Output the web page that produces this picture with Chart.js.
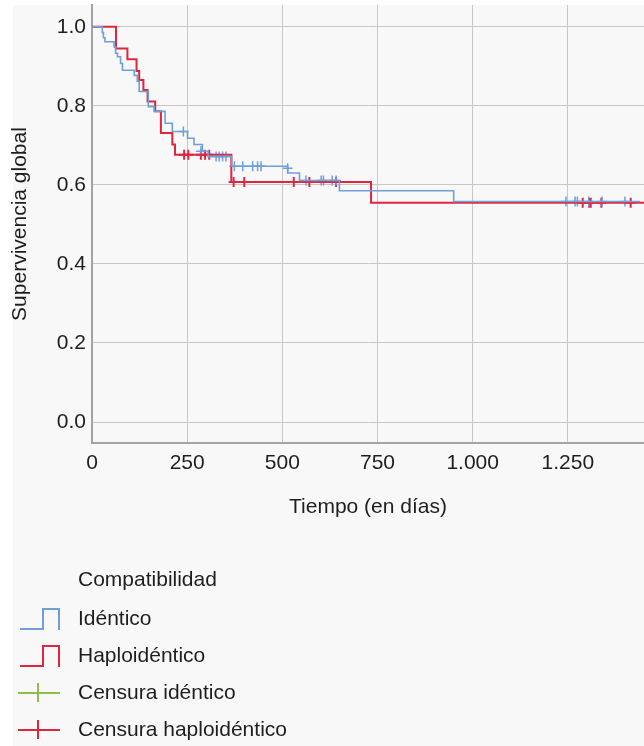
<!DOCTYPE html>
<html>
<head>
<meta charset="utf-8">
<script src="https://cdn.jsdelivr.net/npm/chart.js@4.4.1/dist/chart.umd.min.js"></script>
<style>
  html, body { margin: 0; padding: 0; background: #fff; }
  #wrap { width: 644px; height: 746px; }
</style>
</head>
<body>
<div id="wrap"><canvas id="km" width="644" height="746"></canvas></div>
<script>
// Curvas Kaplan-Meier (tiempo en días, supervivencia acumulada)
const identicoTiempo = [0, 27, 30, 34, 58, 62, 67, 75, 80, 111, 119, 124, 148, 163, 192, 211, 251, 268, 290, 305, 367, 514, 545, 650, 950, 1440]
const identicoSuperv = [1.0, 0.985, 0.972, 0.962, 0.949, 0.933, 0.924, 0.907, 0.89, 0.877, 0.862, 0.836, 0.798, 0.786, 0.756, 0.735, 0.718, 0.702, 0.685, 0.672, 0.647, 0.630, 0.611, 0.585, 0.558, 0.558]

const haploTiempo = [0, 63, 93, 117, 124, 135, 146, 166, 181, 211, 218, 366, 733, 1450]
const haploSuperv = [1.0, 0.945, 0.918, 0.888, 0.865, 0.84, 0.811, 0.786, 0.731, 0.702, 0.676, 0.607, 0.555, 0.555]

// Censuras
const censIdenticoTiempo = [240, 286, 326, 334, 343, 352, 374, 396, 422, 435, 444, 514, 562, 602, 608, 631, 641, 1245, 1269, 1275, 1305, 1340, 1400]
const censIdenticoSuperv = [0.735, 0.685, 0.672, 0.672, 0.672, 0.672, 0.647, 0.647, 0.647, 0.647, 0.647, 0.642, 0.611, 0.611, 0.611, 0.611, 0.611, 0.558, 0.558, 0.558, 0.558, 0.558, 0.558]

const censHaploTiempo = [242, 253, 286, 297, 308, 372, 400, 530, 571, 641, 1289, 1306, 1310, 1338, 1415]
const censHaploSuperv = [0.676, 0.676, 0.676, 0.676, 0.676, 0.607, 0.607, 0.607, 0.607, 0.607, 0.555, 0.555, 0.555, 0.555, 0.555]

const xTicks = [0, 250, 500, 750, 1000, 1250]
const xTickLabels = ['0', '250', '500', '750', '1.000', '1.250']
const yTicks = [0, 0.2, 0.4, 0.6, 0.8, 1.0]
const yTickLabels = ['0.0', '0.2', '0.4', '0.6', '0.8', '1.0']

const legendTitle = 'Compatibilidad'
const legendLabels = ['Idéntico', 'Haploidéntico', 'Censura idéntico', 'Censura haploidéntico']

const azul = '#6f9fd8'
const rojo = '#de2640'
const verde = '#8cc045'
const textColor = '#1e1e1e'
const fontFamily = "'Liberation Sans', Arial, sans-serif"
const fontSize = 21

const toPoints = (xs, ys) => xs.map((x, i) => ({ x: x, y: ys[i] }))

const bgPlugin = {
    id: 'bg',
    beforeDraw: (chart) => {
        const ctx = chart.ctx
        ctx.save()
        ctx.fillStyle = '#ffffff'
        ctx.fillRect(0, 0, chart.width, chart.height)
        ctx.fillStyle = '#f8f8f8'
        ctx.fillRect(13, 5, chart.width - 13, chart.height - 5)
        ctx.restore()
    }
}

const legendPlugin = {
    id: 'kmLegend',
    afterDraw: (chart) => {
        const ctx = chart.ctx
        ctx.save()
        ctx.font = fontSize + 'px ' + fontFamily
        ctx.fillStyle = textColor
        ctx.textBaseline = 'alphabetic'
        ctx.textAlign = 'left'
        ctx.fillText(legendTitle, 78, 586)
        const rows = [625, 662, 699, 736]
        legendLabels.forEach((label, i) => {
            ctx.fillStyle = textColor
            ctx.fillText(label, 78, rows[i])
        })
        ctx.lineWidth = 2
        // iconos de escalón
        ;[azul, rojo].forEach((color, i) => {
            const base = rows[i] + 4
            ctx.strokeStyle = color
            ctx.beginPath()
            ctx.moveTo(20, base)
            ctx.lineTo(43, base)
            ctx.lineTo(43, base - 20)
            ctx.lineTo(59, base - 20)
            ctx.lineTo(59, base + 1)
            ctx.stroke()
        })
        // iconos de cruz
        ;[verde, rojo].forEach((color, i) => {
            const mid = rows[i + 2] - 6
            ctx.strokeStyle = color
            ctx.beginPath()
            ctx.moveTo(18, mid)
            ctx.lineTo(60, mid)
            ctx.moveTo(38, mid - 10)
            ctx.lineTo(38, mid + 9)
            ctx.stroke()
        })
        ctx.restore()
    }
}

const data = {
    datasets: [
        {
            label: 'Idéntico',
            data: toPoints(identicoTiempo, identicoSuperv),
            borderColor: azul,
            borderWidth: 1.6,
            stepped: true,
            pointRadius: 0,
            fill: false,
        },
        {
            label: 'Haploidéntico',
            data: toPoints(haploTiempo, haploSuperv),
            borderColor: rojo,
            borderWidth: 2,
            stepped: true,
            pointRadius: 0,
            fill: false,
        },
        {
            label: 'Censura idéntico',
            data: toPoints(censIdenticoTiempo, censIdenticoSuperv),
            showLine: false,
            pointStyle: 'cross',
            pointRadius: 5,
            borderColor: azul,
            borderWidth: 1.5,
        },
        {
            label: 'Censura haploidéntico',
            data: toPoints(censHaploTiempo, censHaploSuperv),
            showLine: false,
            pointStyle: 'cross',
            pointRadius: 5,
            borderColor: rojo,
            borderWidth: 2,
        },
    ]
}

const options = {
    responsive: false,
    animation: false,
    events: [],
    layout: {
        autoPadding: false,
        padding: { left: 0, top: 5, right: 0, bottom: 223 }
    },
    plugins: {
        legend: { display: false },
        tooltip: { enabled: false },
    },
    scales: {
        x: {
            type: 'linear',
            min: 0,
            max: 1450,
            afterBuildTicks: (scale) => { scale.ticks = xTicks.map(v => ({ value: v })) },
            afterFit: (scale) => {
                scale.height = 80
                scale.paddingLeft = 0
                scale.paddingRight = 0
            },
            grid: { color: '#cac6c4', lineWidth: 1, drawTicks: false },
            border: { display: true, color: '#a3a3a3', width: 2 },
            ticks: {
                color: textColor,
                padding: 8,
                maxRotation: 0,
                font: { family: fontFamily, size: fontSize },
                callback: (value) => xTickLabels[xTicks.indexOf(value)],
            },
            title: {
                display: true,
                text: 'Tiempo (en días)',
                color: textColor,
                padding: { top: 0, bottom: 3 },
                font: { family: fontFamily, size: fontSize },
            },
        },
        y: {
            type: 'linear',
            min: -0.053,
            max: 1.055,
            afterBuildTicks: (scale) => { scale.ticks = yTicks.map(v => ({ value: v })) },
            afterFit: (scale) => {
                scale.width = 92
                scale.paddingTop = 0
                scale.paddingBottom = 0
            },
            grid: { color: '#cac6c4', lineWidth: 1, drawTicks: false },
            border: { display: true, color: '#a3a3a3', width: 2 },
            ticks: {
                color: textColor,
                padding: 6,
                font: { family: fontFamily, size: fontSize },
                callback: (value) => yTickLabels[yTicks.indexOf(value)],
            },
            title: {
                display: true,
                text: 'Supervivencia global',
                color: textColor,
                padding: { top: 8, bottom: 0 },
                font: { family: fontFamily, size: fontSize },
            },
        },
    },
}

const config = {
    type: 'line',
    data: data,
    options: options,
    plugins: [bgPlugin, legendPlugin],
}

const kmChart = new Chart(document.getElementById('km'), config)
</script>
</body>
</html>
